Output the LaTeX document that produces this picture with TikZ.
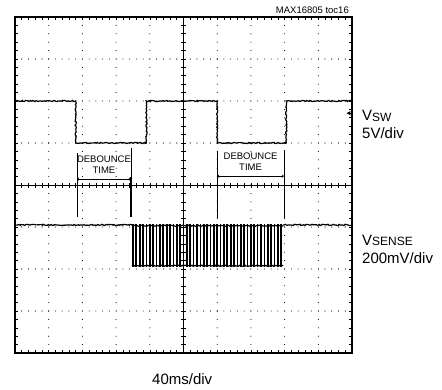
\documentclass[tikz,border=0pt]{standalone}
\usepackage{fontspec}
\setmainfont{Liberation Sans}
\usetikzlibrary{arrows.meta,decorations.pathmorphing}

\begin{document}
\begin{tikzpicture}[x=1pt,y=1pt,>={To[length=2.2pt,width=3pt]},
		dotrow/.style={line width=1.1pt,line cap=round,dash pattern=on 0pt off #1},
		trace/.style={line width=1.2pt,decorate,decoration={random steps,segment length=1.2pt,amplitude=0.6pt}},
		burst/.style={line width=1.7pt},
		tick/.style={line width=0.6pt},
		lbl/.style={font=\fontsize{15}{18}\selectfont,inner sep=0pt,anchor=base west},
		debtext/.style={font=\fontsize{9.5}{11}\selectfont,align=center,inner sep=0pt}]
	\useasboundingbox (0,0) rectangle (442,389);
	
	\begin{scope}[shift={(15,36)},x=33.7pt,y=42pt]
		% grid
		\foreach \i in {1,2,3,4,6,7,8,9}
			\draw[dotrow=8.4pt] (\i,0) -- (\i,8);
		\foreach \j in {1,2,3,5,6,7}
			\draw[dotrow=6.74pt] (0,\j) -- (10,\j);
		
		% centre axes
		\draw[tick] (5,0) -- (5,8);
		\draw[tick] (0,4) -- (10,4);
		\foreach \k in {1,...,49}
			\draw[tick] (\k/5,4) ++(0,-2.5pt) -- ++(0,5pt);
		\foreach \k in {1,...,39}
			\draw[tick] (5,\k/5) ++(-2.5pt,0) -- ++(5pt,0);
		
		% frame
		\foreach \k in {1,...,49} {
			\draw[tick] (\k/5,0) -- ++(0,3pt);
			\draw[tick] (\k/5,8) -- ++(0,-3pt);
		}
		\foreach \k in {1,...,39} {
			\draw[tick] (0,\k/5) -- ++(3pt,0);
			\draw[tick] (10,\k/5) -- ++(-3pt,0);
		}
		\draw[line width=1.6pt] (0,0) rectangle (10,8);
		
		% V_SW
		\draw[trace] (0,6) -- (1.8,6) -- (1.8,5) -- (3.9,5) -- (3.9,6)
			-- (6.0,6) -- (6.0,5) -- (8.05,5) -- (8.05,6) -- (10,6);
		\coordinate (swmark) at (10,5.71);
		\coordinate (swtip) at (9.83,5.71);
		\draw[-{Latex[length=4pt,width=4.5pt]},line width=0.8pt] (swmark) -- (swtip);
		
		% V_SENSE
		\draw[trace] (0,3.05) -- (3.47,3.05);
		\draw[trace] (7.95,3.05) -- (10,3.05);
		\foreach \k in {0,...,44}
			\draw[burst] (3.5+\k/10,2.05) -- (3.5+\k/10,3.07);
		\draw[trace] (3.47,2.08) -- (7.96,2.08);
		\draw[trace] (3.47,3.03) -- (7.96,3.03);
		
		% debounce 1
		\coordinate (d1top) at (1.84,4.76);
		\coordinate (d1bot) at (1.84,3.24);
		\coordinate (d2top) at (3.44,4.88);
		\coordinate (d2mid) at (3.44,4.19);
		\coordinate (d2bot) at (3.44,3.24);
		\coordinate (a1l) at (1.84,4.14);
		\coordinate (a1r) at (3.44,4.14);
		\draw[line width=0.6pt] (d1top) -- (d1bot);
		\draw[line width=0.6pt] (d2top) -- (d2mid);
		\draw[line width=1.4pt] (d2mid) -- (d2bot);
		\draw[<->,line width=0.9pt] (a1l) -- (a1r);
		\node[debtext] (deb1) at (2.64,4.49) {DEBOUNCE\\TIME};
		
		% debounce 2
		\coordinate (d3top) at (6.0,4.81);
		\coordinate (d3bot) at (6.0,3.21);
		\coordinate (d4top) at (7.98,4.83);
		\coordinate (d4bot) at (7.98,3.21);
		\coordinate (a2l) at (6.0,4.21);
		\coordinate (a2r) at (7.98,4.21);
		\draw[line width=1.4pt] (d3top) -- (d3bot);
		\draw[line width=0.6pt] (d4top) -- (d4bot);
		\draw[<->,line width=0.6pt] (a2l) -- (a2r);
		\node[debtext] (deb2) at (6.99,4.55) {DEBOUNCE\\TIME};
	\end{scope}
	
	% labels
	\node[font=\fontsize{9.5}{11}\selectfont,inner sep=0pt,anchor=base east] (toc) at (349,375) {MAX16805 toc16};
	\node[lbl] (vsw) at (362,268) {V{\fontsize{12}{13}\selectfont\raisebox{-0.5pt}{SW}}};
	\node[lbl] (vswdiv) at (362,251) {5V/div};
	\node[lbl] (vsense) at (362,144) {V{\fontsize{12}{13}\selectfont\raisebox{-0.5pt}{SENSE}}};
	\node[lbl] (vsensediv) at (362,126) {200mV/div};
	\node[lbl] (tdiv) at (152,4.5) {40ms/div};
\end{tikzpicture}
\end{document}
